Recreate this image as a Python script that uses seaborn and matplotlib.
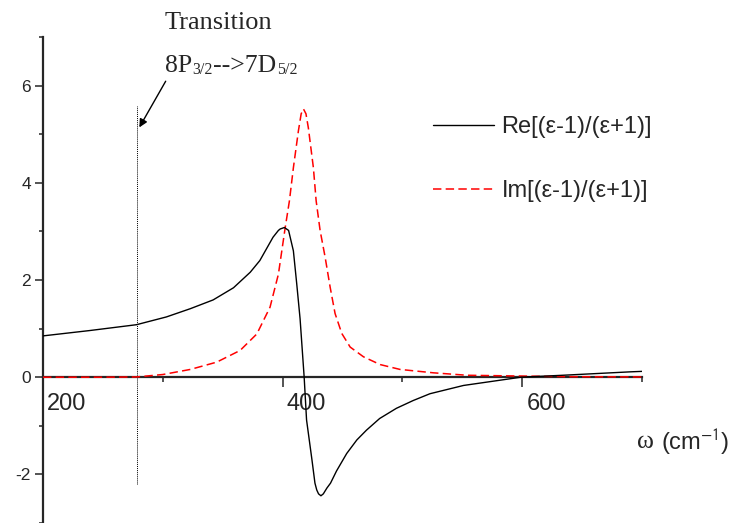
import numpy as np
import pandas as pd
import seaborn as sns
import matplotlib
matplotlib.use("Agg")
import matplotlib.pyplot as plt
from matplotlib.ticker import MultipleLocator, FixedLocator
from matplotlib.transforms import ScaledTranslation

# Real part of (eps-1)/(eps+1) versus frequency (cm^-1)
re_w = [200, 239, 278, 303, 323, 342, 359, 373, 381, 392, 396.5, 398, 401.5,
        405, 409, 411.8, 414.6, 416.3, 418, 420, 424.5, 427, 428.5, 430, 432,
        434, 437, 440, 445, 453.5, 462, 470, 481, 495, 509, 523, 551, 599, 634, 690, 700]
re_v = [0.85, 0.96, 1.08, 1.24, 1.41, 1.59, 1.84, 2.16, 2.40, 2.88, 3.02, 3.05, 3.08,
        3.02, 2.60, 1.92, 1.20, 0.60, 0.0, -0.88, -1.70, -2.18, -2.32, -2.40, -2.44,
        -2.40, -2.28, -2.18, -1.93, -1.57, -1.29, -1.09, -0.85, -0.64, -0.48, -0.34,
        -0.17, 0.0, 0.04, 0.11, 0.12]

# Imaginary part of (eps-1)/(eps+1)
im_w = [200, 250, 278, 300, 323, 345, 364.5, 378.5, 389.5, 396.5, 402, 405.7, 409,
        413.2, 415.5, 417.4, 419.5, 421.5, 425.7, 428, 431.3, 435.5, 439.7, 443.8,
        449.4, 456.4, 467.5, 481.4, 498, 526, 554, 582, 640, 700]
im_v = [0.0, 0.0, 0.005, 0.055, 0.16, 0.31, 0.55, 0.89, 1.44, 2.12, 3.05, 3.63, 4.31,
        5.07, 5.42, 5.52, 5.42, 5.13, 4.31, 3.63, 3.02, 2.47, 1.85, 1.31,
        0.90, 0.62, 0.42, 0.26, 0.16, 0.09, 0.04, 0.03, 0.01, 0.005]

re_label = "Re[(ε-1)/(ε+1)]"
im_label = "Im[(ε-1)/(ε+1)]"

# Marker for the 8P3/2 -> 7D5/2 transition
transition_w = 278.3
transition_span = (-2.2, 5.58)
arrow_tail = (302.4, 6.09)
arrow_head = (280.4, 5.14)

x_major = [200, 400, 600]
x_minor = [300, 500, 700]
y_major = [-2, 0, 2, 4, 6]

sns.set_style("ticks")
plt.rcParams["font.family"] = ["Liberation Sans", "DejaVu Sans"]

fig = plt.figure(figsize=(7.31, 5.23), dpi=100)
ax = fig.add_axes([43 / 731, 0.0, (642 - 43) / 731, 1 - 37 / 523])

re_df = pd.DataFrame({"w": re_w, "v": re_v})
im_df = pd.DataFrame({"w": im_w, "v": im_v})

sns.lineplot(data=re_df, x="w", y="v", ax=ax, color="black", lw=1.0,
             label=re_label, zorder=4)
sns.lineplot(data=im_df, x="w", y="v", ax=ax, color="#ff0000", lw=1.1,
             label=im_label, zorder=3, dashes=False)
ax.lines[1].set_dashes([5.5, 2.8])

ax.set_xlim(200, 700)
ax.set_ylim(-3, 7)

# Axes frame: only left spine and a horizontal axis through zero
ax.spines["top"].set_visible(False)
ax.spines["right"].set_visible(False)
ax.spines["bottom"].set_position(("data", 0))
for s in ("left", "bottom"):
    ax.spines[s].set_linewidth(1.6)
    ax.spines[s].set_zorder(2.5)

ax.xaxis.set_major_locator(FixedLocator(x_major))
ax.xaxis.set_minor_locator(FixedLocator(x_minor))
ax.yaxis.set_major_locator(FixedLocator(y_major))
ax.yaxis.set_minor_locator(MultipleLocator(1))
ax.set_xticks(x_major)
ax.set_xticklabels([str(t) for t in x_major])
ax.set_yticks(y_major)
ax.set_yticklabels([str(t) for t in y_major])

ax.tick_params(axis="x", which="major", direction="out", length=7.2, width=1.1,
               labelsize=17, pad=4)
ax.tick_params(axis="x", which="minor", direction="out", length=3.6, width=1.1)
ax.tick_params(axis="y", which="major", direction="out", length=5.8, width=1.1,
               labelsize=12.5, pad=3)
ax.tick_params(axis="y", which="minor", direction="out", length=3.0, width=1.1)

shift = ScaledTranslation(0.24, 0, fig.dpi_scale_trans)
for lab in ax.get_xticklabels():
    lab.set_transform(lab.get_transform() + shift)

ax.set_xlabel("")
ax.set_ylabel("")

# Vertical dotted marker and its annotation
ax.vlines(transition_w, transition_span[0], transition_span[1], colors="black",
          linestyles=(0, (1, 1)), lw=0.7, zorder=2)
ax.annotate("", xy=arrow_head, xytext=arrow_tail,
            arrowprops=dict(arrowstyle="-|>", color="black", lw=1.0,
                            mutation_scale=12, shrinkA=0, shrinkB=0))

serif = "Liberation Serif"
fig.text(165 / 731, 1 - 29 / 523, "Transition", family=serif,
         fontsize=19, ha="left", va="baseline")

# Second line built from pieces so the subscripts can be set smaller
main_kw = dict(family=serif, fontsize=18.5, ha="left", va="bottom",
               textcoords="offset points", annotation_clip=False)
sub_kw = dict(family=serif, fontsize=11.5, ha="left", va="bottom",
              textcoords="offset points", annotation_clip=False)
t1 = fig.text(165 / 731, 1 - 72 / 523, "8P", family=serif, fontsize=18.5,
              ha="left", va="baseline")
s1 = ax.annotate("3/2", xy=(1, 0), xycoords=t1, xytext=(0.3, -0.8), **sub_kw)
t2 = ax.annotate("-->7D", xy=(1, 0), xycoords=(s1, t1), xytext=(0.3, 0), **main_kw)
s2 = ax.annotate("5/2", xy=(1, 0), xycoords=(t2, t1), xytext=(0.3, -0.8), **sub_kw)

# Axis title at the right end of the horizontal axis
unit = fig.text(729 / 731, 1 - 442 / 523, r"(cm$^{-1}$)", fontsize=17,
                ha="right", va="center", math_fontfamily="stixsans")
ax.annotate("ω ", xy=(0, 0), xycoords=unit, xytext=(0, 2.5),
            textcoords="offset points", ha="right", va="bottom",
            family=serif, fontsize=18.5, annotation_clip=False)

ax.legend(loc="upper left", bbox_to_anchor=(433 / 731, 1 - 116 / 523),
          bbox_transform=fig.transFigure, frameon=False, fontsize=17,
          borderpad=0, borderaxespad=0, handlelength=2.6, handletextpad=0.3,
          labelspacing=1.8)

fig.savefig("out.png", dpi=100)
